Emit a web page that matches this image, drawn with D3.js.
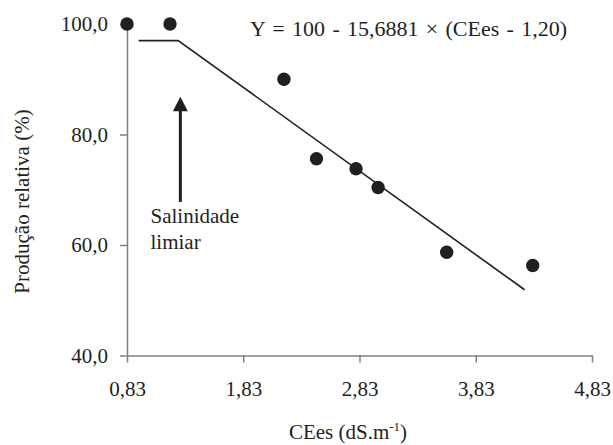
<!DOCTYPE html>
<html>
<head>
<meta charset="utf-8">
<script src="https://cdn.jsdelivr.net/npm/d3@7"></script>
<style>
    body { margin: 0; background: #fff; }
</style>
</head>
<body>
<div class="chart"></div>
<script>
// observed points: CEes (dS/m) vs relative yield (%)
var cees = [0.83, 1.20, 2.18, 2.46, 2.80, 2.99, 3.58, 4.32];
var producao = [100.0, 100.0, 90.0, 75.6, 73.8, 70.4, 58.7, 56.3];

// fitted threshold model (plateau then linear decline)
var modeloX = [0.93, 1.27, 4.25];
var modeloY = [97.0, 97.0, 51.9];

var xTicks = [0.83, 1.83, 2.83, 3.83, 4.83];
var yTicks = [40, 60, 80, 100];

var equacao = "Y = 100 - 15,6881 × (CEes - 1,20)";

var fonte = "'Liberation Serif', 'Times New Roman', Times, 'DejaVu Serif', serif";

var width = 613, height = 445;
var margin = {top: 24, right: 21, bottom: 89.5, left: 127};

var svg = d3.select(".chart").append("svg").attr("width", width).attr("height", height)
    .style("font-family", fonte);

var locale = d3.formatLocale({decimal: ",", thousands: ".", grouping: [3], currency: ["", ""]});

var x = d3.scaleLinear().domain([0.83, 4.83]).range([margin.left, width - margin.right]);
var y = d3.scaleLinear().domain([40, 100]).range([height - margin.bottom, margin.top]);

var gx = svg.append("g")
    .attr("transform", "translate(0," + (height - margin.bottom) + ")")
    .call(d3.axisBottom(x).tickValues(xTicks).tickFormat(locale.format(".2f")).tickSize(7).tickPadding(19).tickSizeOuter(0));

var gy = svg.append("g")
    .attr("transform", "translate(" + margin.left + ",0)")
    .call(d3.axisLeft(y).tickValues(yTicks).tickFormat(locale.format(".1f")).tickSize(7).tickPadding(12).tickSizeOuter(0));

// gray axes, serif labels
svg.selectAll("g").attr("font-family", null).attr("font-size", null);
svg.selectAll(".domain, .tick line").attr("stroke", "#808080").attr("stroke-width", 1.5);
svg.selectAll(".tick text").style("font-family", fonte).style("font-size", "21px").attr("fill", "#231f20");

// model line
var linha = d3.line().x(function (d) { return x(d[0]); }).y(function (d) { return y(d[1]); });
svg.append("path")
    .datum(d3.zip(modeloX, modeloY))
    .attr("d", linha)
    .attr("fill", "none")
    .attr("stroke", "#231f20")
    .attr("stroke-width", 1.6);

// points
svg.selectAll(".ponto").data(d3.zip(cees, producao)).enter().append("circle")
    .attr("class", "ponto")
    .attr("cx", function (d) { return x(d[0]); })
    .attr("cy", function (d) { return y(d[1]); })
    .attr("r", 6.7)
    .attr("fill", "#231f20");

function texto(px, py) {
    return svg.append("text")
        .attr("x", px).attr("y", py)
        .style("font-family", fonte)
        .style("font-size", "21px")
        .attr("fill", "#231f20");
}

// equation
texto(250, 36).style("font-size", "22px").style("word-spacing", "1.8px").text(equacao);

// arrow marking the threshold
var seta = svg.append("g");
seta.append("line")
    .attr("x1", x(1.289)).attr("x2", x(1.289))
    .attr("y1", y(67.8)).attr("y2", y(84.5))
    .attr("stroke", "#231f20").attr("stroke-width", 3);
seta.append("polygon")
    .attr("points", [
        [x(1.289), y(86.84)],
        [x(1.289) - 7.5, y(86.84) + 14.5],
        [x(1.289) + 7.5, y(86.84) + 14.5]
    ].join(" "))
    .attr("fill", "#231f20");

texto(150.5, 223).text("Salinidade");
texto(150.5, 249).text("limiar");

// axis titles
var tx = texto(348, 438.5).attr("text-anchor", "middle");
tx.append("tspan").text("CEes (dS.m");
tx.append("tspan").attr("dy", -8).style("font-size", "13px").text("-1");
tx.append("tspan").attr("dy", 8).text(")");

texto(0, 0)
    .attr("transform", "translate(29,201.5) rotate(-90)")
    .attr("text-anchor", "middle")
    .text("Produção relativa (%)");
</script>
</body>
</html>
